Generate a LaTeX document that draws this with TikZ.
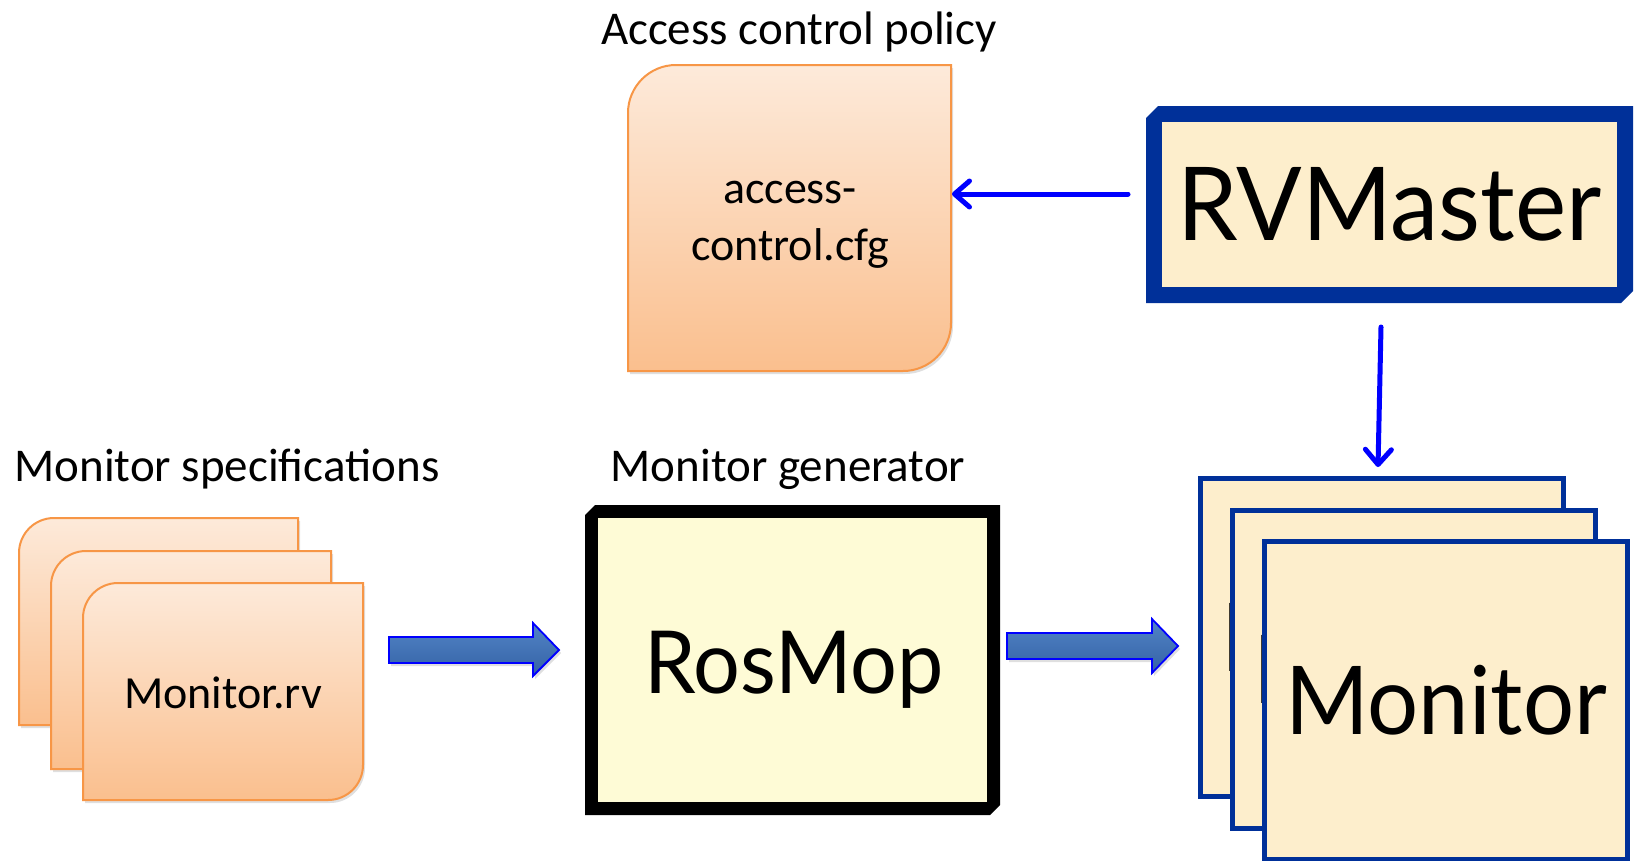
\documentclass[tikz,border=0pt]{standalone}
\usepackage{fontspec}
\setmainfont{Carlito}
\newfontfamily\gillfont[FakeStretch=0.95]{Lato}
\usetikzlibrary{arrows.meta,calc,shadows}
\definecolor{peachtop}{RGB}{253,234,218}
\definecolor{peachbot}{RGB}{250,191,142}
\definecolor{peachline}{RGB}{247,150,70}
\definecolor{cream}{RGB}{253,238,204}
\definecolor{navy}{RGB}{0,48,153}
\definecolor{paleyellow}{RGB}{254,251,214}
\definecolor{arrowtop}{RGB}{82,132,198}
\definecolor{arrowbot}{RGB}{52,98,165}
\definecolor{linkblue}{RGB}{0,0,255}
% L T R B radius
\newcommand\peachbox[5]{%
  \path[peachshape] (#1,#2+#5) .. controls (#1,#2+0.4477*#5) and (#1+0.4477*#5,#2) .. (#1+#5,#2)
    -- (#3,#2) -- (#3,#4-#5) .. controls (#3,#4-0.4477*#5) and (#3-0.4477*#5,#4) .. (#3-#5,#4)
    -- (#1,#4) -- cycle;}
% L T R B thickness chamfer outer inner
\newcommand\bevelbox[8]{%
  \fill[#7] (#1+#6,#2) -- (#3,#2) -- (#3,#4-#6) -- (#3-#6,#4) -- (#1,#4) -- (#1,#2+#6) -- cycle;
  \fill[#8] (#1+#5,#2+#5) rectangle (#3-#5,#4-#5);}
\tikzset{
  peachshape/.style={top color=peachtop, bottom color=peachbot, draw=peachline, line width=2pt,
    drop shadow={opacity=0.25, shadow xshift=2pt, shadow yshift=-3pt}},
  area/.style={inner sep=0pt, outer sep=0pt},
  lbl/.style={inner sep=0pt, font=\fontsize{47}{56}\selectfont},
  filetext/.style={inner sep=0pt, font=\fontsize{46}{57}\selectfont, align=center},
  bigtext/.style={inner sep=0pt, font=\gillfont},
  monbox/.style={draw=navy, fill=cream, line width=5pt, inner sep=0pt,
    minimum width=363pt, minimum height=318pt, font=\gillfont\fontsize{95}{100}\selectfont},
  blockarrow/.style={top color=arrowtop, bottom color=arrowbot, draw=linkblue, line width=1.8pt,
    line join=miter, drop shadow={opacity=0.25, shadow xshift=2pt, shadow yshift=-3pt}},
  link/.style={draw=linkblue, line width=5pt, line cap=round,
    -{Straight Barb[length=15pt, width=26pt, round]}}
}
\begin{document}
\begin{tikzpicture}[x=1pt, y=-1pt]
\useasboundingbox (0,0) rectangle (1636,860);
\fill[white] (0,0) rectangle (1636,860);

% labels
\node[lbl, anchor=base] (acctitle) at (799,44) {Access control policy};
\node[lbl, anchor=base] (spectitle) at (227,481) {Monitor specifications};
\node[lbl, anchor=base] (gentitle) at (788,481) {Monitor generator};

% access control file
\peachbox{628}{65}{951}{371}{48}
\node[area, minimum width=323pt, minimum height=306pt] (acc) at (789.5,218) {};
\node[filetext] (acctext) at (790,225) {access-\\control.cfg};

% monitor specifications
\peachbox{19}{518}{298}{725}{35}
\peachbox{51}{551}{331}{769}{35}
\peachbox{83}{583}{363}{800}{35}
\node[area, minimum width=280pt, minimum height=217pt] (spec) at (223,691.5) {};
\node[filetext, anchor=base] (spectext) at (223,708) {Monitor.rv};

% RVMaster
\bevelbox{1146}{106}{1633}{303}{16}{12}{navy}{cream}
\node[area, minimum width=487pt, minimum height=197pt] (rvm) at (1389.5,204.5) {};
\node[bigtext, anchor=base, font=\gillfont\fontsize{102}{110}\selectfont] (rvmtext) at (1389.5,240) {RVMaster};

% RosMop
\bevelbox{585}{505}{1000}{815}{13}{10}{black}{paleyellow}
\node[area, minimum width=415pt, minimum height=310pt] (gen) at (792.5,660) {};
\node[bigtext, anchor=base, font=\gillfont\fontsize{87}{96}\selectfont] (gentext) at (794,693) {RosMop};

% monitors
\node[monbox] (mon1) at (1382,637.5) {Monitor};
\node[monbox] (mon2) at (1414,669.5) {Monitor};
\node[monbox] (mon3) at (1446,700.5) {Monitor};

% block arrows
\path[blockarrow] (389,637) -- (533,637) -- (533,623) -- (559,650) -- (533,676) -- (533,663) -- (389,663) -- cycle;
\path[blockarrow] (1007,633) -- (1152,633) -- (1152,619) -- (1178,646) -- (1152,673) -- (1152,659) -- (1007,659) -- cycle;

% thin links
\draw[link] ($(rvm.west)+(-18,-10.5)$) -- ($(acc.east)+(1,-24)$);
\draw[link] ($(rvm.south)+(-8.5,24)$) -- ($(mon1.north)+(-4,-9)$);
\end{tikzpicture}
\end{document}
